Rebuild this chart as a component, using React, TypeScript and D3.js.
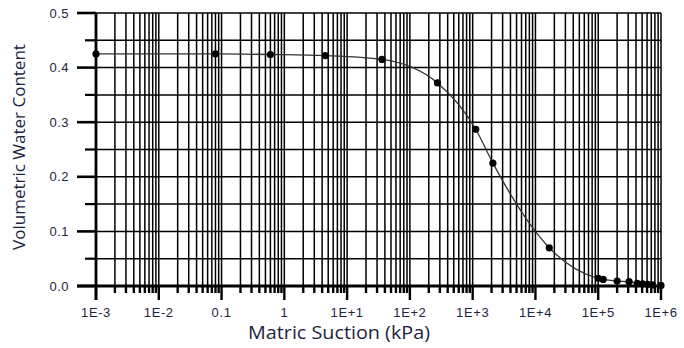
import React, { useEffect, useRef } from "react";
import * as d3 from "d3";

const suction = [0.001, 0.08, 0.6, 4.5, 36, 275, 1120, 2100, 16600, 100000, 120000, 200000, 310000, 420000, 510000, 610000, 730000, 1000000];
const water = [0.425, 0.425, 0.424, 0.422, 0.415, 0.372, 0.287, 0.225, 0.070, 0.014, 0.012, 0.009, 0.008, 0.005, 0.004, 0.003, 0.002, 0.001];
const xMajorTicks = [1e-3, 1e-2, 1e-1, 1, 1e1, 1e2, 1e3, 1e4, 1e5, 1e6];
const xTickLabels = ["1E-3", "1E-2", "0.1", "1", "1E+1", "1E+2", "1E+3", "1E+4", "1E+5", "1E+6"];
const yMajorTicks = [0, 0.1, 0.2, 0.3, 0.4, 0.5];
const yTickLabels = ["0.0", "0.1", "0.2", "0.3", "0.4", "0.5"];
const yMinorTicks = [0.05, 0.15, 0.25, 0.35, 0.45];

export default function App() {
  const ref = useRef<SVGSVGElement>(null);
  useEffect(() => {
    const svg = d3.select(ref.current);
    svg.selectAll("*").remove();
    const W = 684, H = 348;
    const x0 = 96, x1 = 661, y0 = 286, y1 = 13;
    const x = d3.scaleLog().domain([1e-3, 1e6]).range([x0, x1]);
    const y = d3.scaleLinear().domain([0, 0.5]).range([y0, y1]);
    svg.attr("width", W).attr("height", H);
    svg.append("rect").attr("width", W).attr("height", H).attr("fill", "#fff");

    const minor: number[] = [];
    for (let e = -3; e < 6; e++) for (let m = 2; m <= 9; m++) minor.push(m * Math.pow(10, e));

    const g = svg.append("g");
    // vertical grid
    [...xMajorTicks, ...minor].forEach((v) => {
      g.append("line").attr("x1", x(v)).attr("x2", x(v)).attr("y1", y1).attr("y2", y0)
        .attr("stroke", "#000").attr("stroke-width", 1.5);
    });
    // horizontal grid
    [...yMajorTicks, ...yMinorTicks].forEach((v) => {
      g.append("line").attr("x1", x0).attr("x2", x1).attr("y1", y(v)).attr("y2", y(v))
        .attr("stroke", "#000").attr("stroke-width", 1.5);
    });
    // x ticks
    xMajorTicks.forEach((v) => {
      g.append("line").attr("x1", x(v)).attr("x2", x(v)).attr("y1", y0).attr("y2", y0 + 14)
        .attr("stroke", "#000").attr("stroke-width", 2.4);
    });
    minor.forEach((v) => {
      g.append("line").attr("x1", x(v)).attr("x2", x(v)).attr("y1", y0).attr("y2", y0 + 7)
        .attr("stroke", "#000").attr("stroke-width", 2.4);
    });
    // y ticks
    yMajorTicks.forEach((v) => {
      g.append("line").attr("x1", x0 - 19).attr("x2", x0).attr("y1", y(v)).attr("y2", y(v))
        .attr("stroke", "#000").attr("stroke-width", 2.6);
    });
    yMinorTicks.forEach((v) => {
      g.append("line").attr("x1", x0 - 11).attr("x2", x0).attr("y1", y(v)).attr("y2", y(v))
        .attr("stroke", "#000").attr("stroke-width", 2.2);
    });
    // axes
    g.append("line").attr("x1", x0).attr("x2", x0).attr("y1", y1).attr("y2", y0 + 14)
      .attr("stroke", "#000").attr("stroke-width", 2.8);
    g.append("line").attr("x1", x0 - 19).attr("x2", x1 + 1).attr("y1", y0).attr("y2", y0)
      .attr("stroke", "#000").attr("stroke-width", 2.8);

    // tick labels
    const lab = "#1d2440";
    yMajorTicks.forEach((v, i) => {
      g.append("text").attr("x", 69).attr("y", y(v)).attr("dy", "0.35em").attr("text-anchor", "end")
        .attr("font-family", "Liberation Sans, Arial, sans-serif").attr("font-size", 13).attr("fill", lab)
        .attr("letter-spacing", 0.5)
        .text(yTickLabels[i]);
    });
    xMajorTicks.forEach((v, i) => {
      g.append("text").attr("x", x(v)).attr("y", 317).attr("text-anchor", "middle")
        .attr("font-family", "Liberation Sans, Arial, sans-serif").attr("font-size", 13).attr("fill", lab)
        .attr("letter-spacing", 0.6)
        .text(xTickLabels[i]);
    });

    // titles
    g.append("text").attr("x", 339).attr("y", 339).attr("text-anchor", "middle")
      .attr("font-family", "Open Sans, sans-serif").attr("font-size", 17.5).attr("fill", "#1d2440")
      .attr("textLength", 182).attr("lengthAdjust", "spacingAndGlyphs")
      .text("Matric Suction (kPa)");
    g.append("text").attr("transform", "translate(25,147) rotate(-90)").attr("text-anchor", "middle")
      .attr("font-family", "Open Sans, sans-serif").attr("font-size", 17).attr("fill", "#1d2440")
      .text("Volumetric Water Content");

    // curve
    const pts = suction.map((s, i) => [x(s), y(water[i])] as [number, number]);
    const line = d3.line().curve(d3.curveMonotoneX);
    g.append("path").attr("d", line(pts)).attr("fill", "none").attr("stroke", "#333").attr("stroke-width", 1.3);
    pts.forEach((p) => {
      g.append("circle").attr("cx", p[0]).attr("cy", p[1]).attr("r", 3.6).attr("fill", "#000");
    });
  }, []);
  return <svg ref={ref} style={{ position: "absolute", left: 0, top: 0 }} />;
}
